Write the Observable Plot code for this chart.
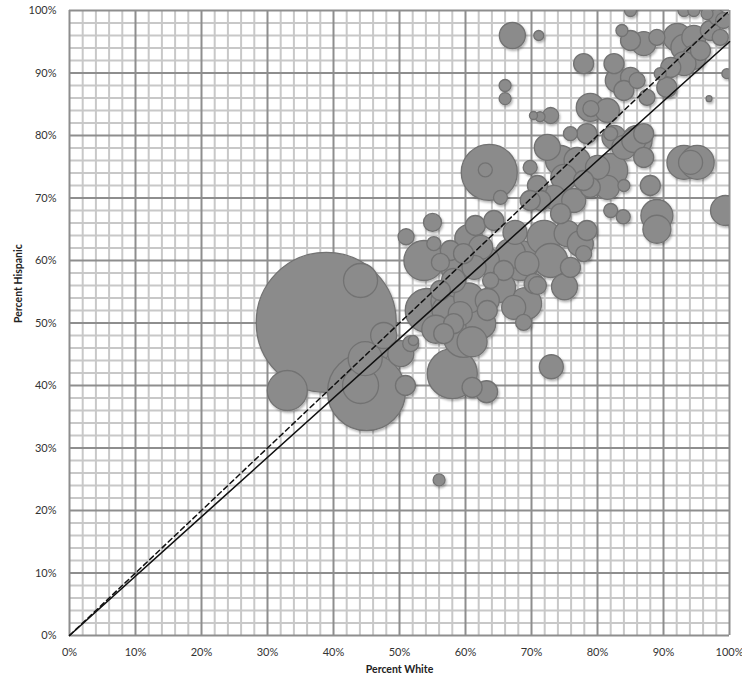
<!DOCTYPE html>
<html><head><meta charset="utf-8">
<script src="https://cdn.jsdelivr.net/npm/d3@7"></script>
<script src="https://cdn.jsdelivr.net/npm/@observablehq/plot@0.6"></script>
<style>body{margin:0;background:#fff} svg{display:block}</style>
</head><body><div id="chart"></div>
<script>
// Percent White (x), Percent Hispanic (y), population in thousands (bubble size)
const pctWhite = [
  38.9,45.0,33.0,44.1,47.6,44.8,44.1,50.2,50.9,52.1,51.0,58.0,61.0,63.2,73.0,56.0,51.7,
  55.0,53.7,56.2,55.2,61.5,54.2,60.8,59.7,57.7,59.7,62.3,64.3,61.3,63.8,65.8,58.2,56.2,57.2,59.2,58.2,62.3,63.3,56.7,63.3,65.3,67.3,69.1,68.8,70.9,75.0,70.4,66.8,68.3,69.3,71.9,75.4,77.4,72.9,75.9,77.9,
  57.5,60.5,55.5,61.0,60.5,63.0,58.5,67.5,
  63.6,65.3,63.0,69.8,70.9,72.4,75.9,78.4,74.4,76.9,74.9,73.4,76.4,78.9,81.5,84.0,82.0,83.9,74.4,78.4,71.4,69.8,80.0,82.0,77.9,82.5,84.0,86.0,87.0,82.0,78.9,79.0,81.5,72.9,71.3,70.3,88.0,93.1,95.1,94.1,89.0,89.0,99.4,
  67.1,71.1,66.0,66.0,77.9,83.7,85.0,87.0,89.0,92.1,94.6,93.1,94.6,97.1,98.6,98.1,96.6,85.0,93.1,94.6,82.5,83.0,85.0,86.0,84.0,87.5,90.5,91.1,93.1,89.5,99.6,96.9,85.5,87.0,95.6,99.1
];
const pctHispanic = [
  50.1,39.0,39.2,56.8,48.0,44.3,40.0,45.1,40.0,47.2,63.8,41.9,39.7,39.0,43.0,24.9,46.7,
  66.1,60.0,59.7,62.7,65.6,52.0,50.4,47.7,61.6,61.1,62.1,66.4,58.9,56.8,58.4,56.8,55.2,52.0,51.5,49.9,49.9,52.0,48.3,53.6,55.7,52.5,53.1,50.1,56.0,55.8,56.3,61.1,60.0,59.5,63.7,64.3,62.7,60.0,58.9,61.1,
  53.5,54.0,49.0,47.0,63.5,60.0,58.5,64.5,
  74.1,70.1,74.5,74.9,72.0,78.1,80.3,80.3,76.0,76.0,73.3,70.1,69.6,71.7,71.7,72.0,68.0,67.0,67.5,64.8,69.6,69.6,74.9,74.4,72.8,79.7,78.1,79.2,76.5,80.3,84.5,84.3,84.0,83.2,83.0,83.2,72.0,75.7,75.7,75.7,67.2,65.0,68.0,
  96.0,96.0,88.0,85.9,91.5,96.8,95.2,94.7,95.7,95.7,95.7,94.1,92.5,96.8,95.7,98.9,99.5,100,100,100,91.5,88.8,89.3,88.8,87.2,86.1,87.7,90.9,91.5,89.9,89.9,85.9,79.2,80.3,93.6,98.4
];
const population = [
  10000,3100,816,590,345,590,661,345,204,51,131,1275,204,247,294,73,131,
  165,816,165,100,204,987,1100,816,204,204,294,204,294,131,204,294,204,459,294,204,459,204,204,294,459,294,522,131,165,345,204,459,816,294,590,345,345,590,204,131,
  661,459,400,459,400,400,400,294,
  1600,100,100,100,204,345,100,204,459,345,345,294,294,204,294,73,100,100,204,204,204,204,294,590,204,294,294,459,204,100,400,131,294,131,51,33,204,590,590,294,522,400,459,
  345,51,73,73,204,73,204,294,131,400,294,345,294,204,131,131,73,73,73,73,204,294,204,131,204,131,204,204,294,73,51,18,294,204,204,131
];
const axisTicks = [0,10,20,30,40,50,60,70,80,90,100];
const minorGrid = d3.range(0, 101, 2).filter(v => v % 10 !== 0);
const parityLine = [{w: 0, h: 0}, {w: 100, h: 100}];
const fitLine = [{w: 0, h: 0}, {w: 100, h: 95}];

const bubbles = pctWhite.map((w, i) => ({w, h: pctHispanic[i], pop: population[i]}));

const chart = Plot.plot({
  width: 742, height: 683,
  marginLeft: 69, marginRight: 13, marginTop: 10, marginBottom: 48,
  style: {fontFamily: "Lato, sans-serif", fontSize: "11px", color: "#333", background: "#fff", overflow: "visible"},
  x: {domain: [0, 100], ticks: axisTicks, tickFormat: d => d + "%", tickSize: 0, tickPadding: 13, label: null},
  y: {domain: [0, 100], ticks: axisTicks, tickFormat: d => d + "%", tickSize: 0, tickPadding: 13, label: null},
  r: {type: "sqrt", domain: [0, 10000], range: [0, 70]},
  marks: [
    Plot.ruleX(minorGrid, {stroke: "#c8c8c8", strokeWidth: 2}),
    Plot.ruleY(minorGrid, {stroke: "#c8c8c8", strokeWidth: 2}),
    Plot.ruleX(axisTicks, {stroke: "#8e8e8e", strokeWidth: 2}),
    Plot.ruleY(axisTicks, {stroke: "#8e8e8e", strokeWidth: 2}),
    Plot.dot(bubbles, {x: "w", y: "h", r: "pop", fill: "#8b8b8b", stroke: "#727272", strokeWidth: 1.3, clip: true, className: "bubbles"}),
    Plot.line(fitLine, {x: "w", y: "h", stroke: "#111", strokeWidth: 1.6}),
    Plot.line(parityLine, {x: "w", y: "h", stroke: "#111", strokeWidth: 1.5, strokeDasharray: "5,3.5"}),
    Plot.text(["Percent White"], {frameAnchor: "bottom", dy: 37, fontWeight: "bold", fontSize: 10.5, fill: "#222"}),
    Plot.text(["Percent Hispanic"], {frameAnchor: "left", dx: -51, rotate: -90, fontWeight: "bold", fontSize: 10.5, fill: "#222"})
  ]
});

// soft drop shadow on bubbles
const svg = d3.select(chart);
const defs = svg.insert("defs", ":first-child");
const f = defs.append("filter").attr("id", "bshadow").attr("x", "-20%").attr("y", "-20%").attr("width", "140%").attr("height", "140%");
f.append("feDropShadow").attr("dx", 1.2).attr("dy", 1.8).attr("stdDeviation", 1.3).attr("flood-color", "#000").attr("flood-opacity", 0.3);
svg.selectAll("g.bubbles").attr("filter", "url(#bshadow)");

document.getElementById("chart").appendChild(chart);
</script>
</body></html>
